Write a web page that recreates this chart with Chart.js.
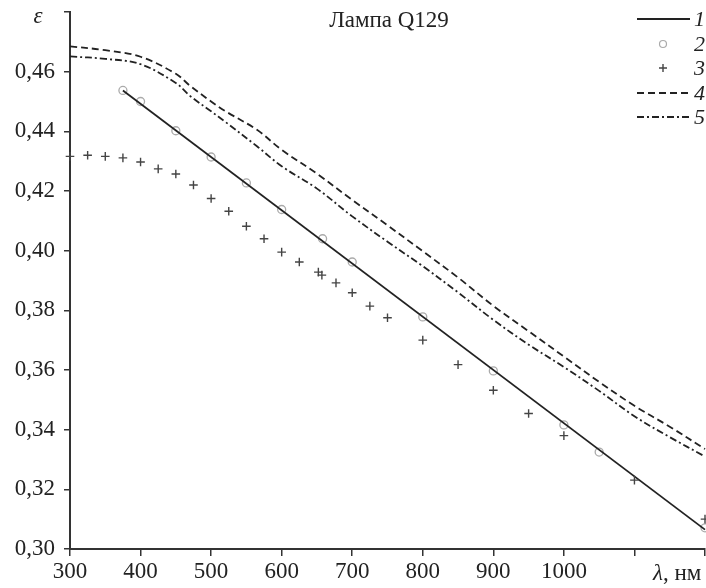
<!DOCTYPE html>
<html>
<head>
<meta charset="utf-8">
<script src="https://cdn.jsdelivr.net/npm/chart.js@4"></script>
<style>
  html, body { margin: 0; padding: 0; background: #fff; overflow: hidden; }
  #wrap { width: 706px; height: 588px; }
</style>
</head>
<body>
<div id="wrap"><canvas id="chart"></canvas></div>
<script>
// Data (λ in nm, ε)
const lineX = [375, 1200];
const line1 = [0.4537, 0.3065];

const circleX = [375, 400, 450, 500, 550, 600, 658, 700, 800, 900, 1000, 1050, 1200];
const circleY = [0.4537, 0.4500, 0.4402, 0.4314, 0.4227, 0.4138, 0.4040, 0.3962, 0.3778, 0.3597, 0.3416, 0.3325, 0.3071];

const plusX = [300, 325, 350, 375, 400, 425, 450, 475, 500, 525, 550, 575, 600, 625, 652, 657, 677, 700, 725, 750, 800, 850, 900, 950, 1000, 1100, 1200];
const plusY = [0.4316, 0.4320, 0.4316, 0.4311, 0.4297, 0.4274, 0.4257, 0.4220, 0.4175, 0.4132, 0.4082, 0.4040, 0.3995, 0.3962, 0.3928, 0.3918, 0.3892, 0.3859, 0.3814, 0.3775, 0.3700, 0.3618, 0.3532, 0.3454, 0.3380, 0.3231, 0.3100];

const curveX = [300, 350, 400, 450, 470, 500, 520, 565, 600, 650, 700, 750, 800, 850, 900, 950, 1000, 1050, 1100, 1150, 1200];
const curve4 = [0.4685, 0.4672, 0.4650, 0.4593, 0.4553, 0.4500, 0.4468, 0.4405, 0.4338, 0.4258, 0.4170, 0.4085, 0.3998, 0.3910, 0.3815, 0.3730, 0.3645, 0.3560, 0.3480, 0.3410, 0.3335];
const curve5 = [0.4651, 0.4643, 0.4625, 0.4562, 0.4519, 0.4467, 0.4432, 0.4350, 0.4283, 0.4208, 0.4115, 0.4030, 0.3948, 0.3860, 0.3768, 0.3685, 0.3610, 0.3530, 0.3445, 0.3375, 0.3310];

const xTicks = [300, 400, 500, 600, 700, 800, 900, 1000, 1100, 1200];
const xTickLabels = ['300', '400', '500', '600', '700', '800', '900', '1000', '', ''];
const yTicks = [0.30, 0.32, 0.34, 0.36, 0.38, 0.40, 0.42, 0.44, 0.46, 0.48];
const yTickLabels = ['0,30', '0,32', '0,34', '0,36', '0,38', '0,40', '0,42', '0,44', '0,46', ''];

const titleText = 'Лампа Q129';
const legendLabels = ['1', '2', '3', '4', '5'];

const SERIF = '"Liberation Serif", "DejaVu Serif", serif';
const INK = '#222';

function toPoints(xs, ys) {
  return xs.map((x, i) => ({ x: x, y: ys[i] }));
}

// Title, axis names and the legend box in the top right corner
const annotations = {
  id: 'annotations',
  afterDraw(chart) {
    const ctx = chart.ctx;
    ctx.save();
    ctx.fillStyle = INK;
    ctx.textBaseline = 'middle';

    ctx.font = '23px ' + SERIF;
    ctx.textAlign = 'center';
    ctx.fillText(titleText, 389, 21);

    ctx.font = 'italic 23px ' + SERIF;
    ctx.fillText('ε', 38, 17);

    // λ, нм at the right end of the x axis
    ctx.textAlign = 'left';
    ctx.font = 'italic 23px ' + SERIF;
    ctx.fillText('λ', 653, 574);
    const w = ctx.measureText('λ').width;
    ctx.font = '23px ' + SERIF;
    ctx.fillText(', нм', 653 + w, 574);

    // legend
    const x0 = 637, x1 = 690;
    const rows = [19, 44, 68, 93, 117];
    ctx.strokeStyle = INK;

    ctx.lineWidth = 1.8;
    ctx.setLineDash([]);
    ctx.beginPath(); ctx.moveTo(x0, rows[0]); ctx.lineTo(x1, rows[0]); ctx.stroke();

    ctx.strokeStyle = '#aaa';
    ctx.fillStyle = '#fff';
    ctx.lineWidth = 1.2;
    ctx.beginPath(); ctx.arc(663, rows[1], 3.5, 0, Math.PI * 2); ctx.fill(); ctx.stroke();

    ctx.strokeStyle = '#444';
    ctx.lineWidth = 1.4;
    ctx.beginPath();
    ctx.moveTo(659, rows[2]); ctx.lineTo(667, rows[2]);
    ctx.moveTo(663, rows[2] - 4); ctx.lineTo(663, rows[2] + 4);
    ctx.stroke();

    ctx.strokeStyle = INK;
    ctx.lineWidth = 1.8;
    ctx.setLineDash([7, 4]);
    ctx.beginPath(); ctx.moveTo(x0, rows[3]); ctx.lineTo(x1, rows[3]); ctx.stroke();
    ctx.setLineDash([7, 3, 2, 3]);
    ctx.beginPath(); ctx.moveTo(x0, rows[4]); ctx.lineTo(x1, rows[4]); ctx.stroke();
    ctx.setLineDash([]);

    ctx.fillStyle = INK;
    ctx.font = 'italic 22px ' + SERIF;
    legendLabels.forEach((t, i) => ctx.fillText(t, 694, rows[i] + 1));
    ctx.restore();
  }
};

const ctx = document.getElementById('chart').getContext('2d');
const chart = new Chart(ctx, {
  type: 'scatter',
  data: {
    datasets: [
      {
        label: '4',
        data: toPoints(curveX, curve4),
        showLine: true,
        borderColor: INK,
        borderWidth: 1.8,
        borderDash: [7, 4],
        tension: 0.35,
        pointRadius: 0,
        fill: false
      },
      {
        label: '5',
        data: toPoints(curveX, curve5),
        showLine: true,
        borderColor: INK,
        borderWidth: 1.8,
        borderDash: [7, 3, 2, 3],
        tension: 0.35,
        pointRadius: 0,
        fill: false
      },
      {
        label: '3',
        data: toPoints(plusX, plusY),
        pointStyle: 'cross',
        pointRadius: 4.3,
        borderColor: '#444',
        borderWidth: 1.4,
        showLine: false
      },
      {
        label: '1',
        data: toPoints(lineX, line1),
        showLine: true,
        borderColor: INK,
        borderWidth: 1.8,
        pointRadius: 0,
        fill: false
      },
      {
        label: '2',
        data: toPoints(circleX, circleY),
        pointStyle: 'circle',
        pointRadius: 4,
        backgroundColor: '#fff',
        borderColor: '#aaa',
        borderWidth: 1.3,
        showLine: false
      }
    ]
  },
  options: {
    responsive: true,
    maintainAspectRatio: false,
    animation: false,
    clip: false,
    layout: { autoPadding: false, padding: { top: 12, right: 1, left: 0, bottom: 0 } },
    plugins: {
      legend: { display: false },
      title: { display: false },
      tooltip: { enabled: false }
    },
    scales: {
      x: {
        type: 'linear',
        min: 300,
        max: 1200,
        afterFit: scale => {
          scale.height = 39;
          scale.paddingLeft = 0;
          scale.paddingRight = 0;
        },
        afterBuildTicks: scale => { scale.ticks = xTicks.map(v => ({ value: v })); },
        border: { display: true, color: '#333', width: 2 },
        grid: { drawOnChartArea: false, drawTicks: true, tickLength: 7, color: '#333', lineWidth: 1.5 },
        ticks: {
          autoSkip: false,
          maxRotation: 0,
          padding: 2,
          color: INK,
          font: { family: SERIF, size: 23 },
          callback: v => xTickLabels[xTicks.indexOf(v)] ?? ''
        }
      },
      y: {
        type: 'linear',
        min: 0.30,
        max: 0.48,
        afterFit: scale => {
          scale.width = 70;
          scale.paddingTop = 0;
          scale.paddingBottom = 0;
        },
        afterBuildTicks: scale => { scale.ticks = yTicks.map(v => ({ value: v })); },
        border: { display: true, color: '#333', width: 2 },
        grid: { drawOnChartArea: false, drawTicks: true, tickLength: 6, color: '#333', lineWidth: 1.5 },
        ticks: {
          autoSkip: false,
          padding: 9,
          color: INK,
          font: { family: SERIF, size: 23 },
          callback: v => {
            const i = yTicks.findIndex(t => Math.abs(t - v) < 1e-6);
            return i >= 0 ? yTickLabels[i] : '';
          }
        }
      }
    }
  },
  plugins: [annotations]
});
</script>
</body>
</html>
